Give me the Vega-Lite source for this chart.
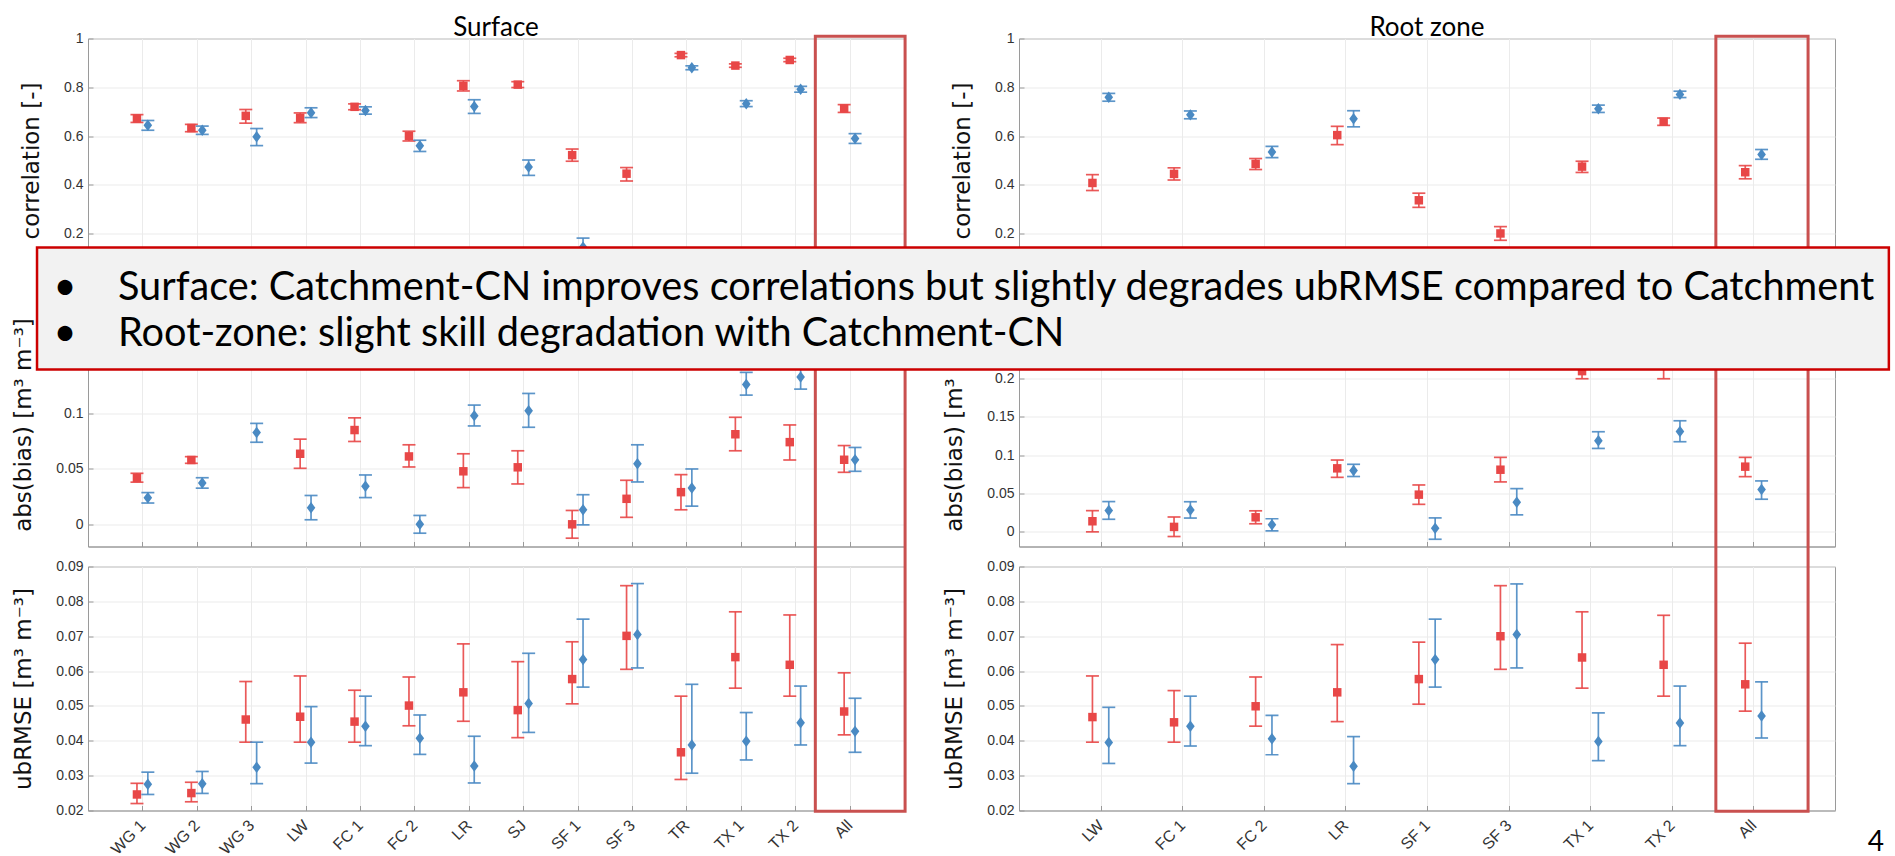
{
"$schema":"https://vega.github.io/schema/vega-lite/v6.json",
"background":"white",
"padding":{"left":12,"top":13.5,"right":0,"bottom":0},
"bounds":"flush",
"columns":2,
"spacing":{"row":20,"column":115},
"config":{
 "view":{"stroke":"#9a9a9a","strokeWidth":1},
 "axis":{"domainColor":"#9a9a9a","tickColor":"#9a9a9a","gridColor":"#ebebeb","gridWidth":1,"labelFont":"Liberation Sans","labelFontSize":14,"labelColor":"#333333","titleFont":"DejaVu Sans","titleFontSize":23,"titleFontWeight":"normal","titleColor":"#111111","tickSize":-5,"labelPadding":10,"titlePadding":20,"grid":true,"labelOverlap":false,"labelBound":false},
 "title":{"font":"Lato","fontSize":26,"fontWeight":"normal","color":"#000000"}
},
"datasets":{
"surfData":[
{"site":"WG 1","pos":1,"model":"Catchment-CN","corr":0.672,"corr_lo":0.656,"corr_hi":0.688,"bias":0.042,"bias_lo":0.038,"bias_hi":0.046,"ub":0.0246,"ub_lo":0.022,"ub_hi":0.0278},
{"site":"WG 2","pos":2,"model":"Catchment-CN","corr":0.633,"corr_lo":0.618,"corr_hi":0.648,"bias":0.058,"bias_lo":0.055,"bias_hi":0.061,"ub":0.025,"ub_lo":0.0225,"ub_hi":0.0281},
{"site":"WG 3","pos":3,"model":"Catchment-CN","corr":0.683,"corr_lo":0.653,"corr_hi":0.709,"bias":0.16,"bias_lo":0.148,"bias_hi":0.172,"ub":0.0461,"ub_lo":0.0396,"ub_hi":0.057},
{"site":"LW","pos":4,"model":"Catchment-CN","corr":0.675,"corr_lo":0.655,"corr_hi":0.695,"bias":0.0636,"bias_lo":0.0505,"bias_hi":0.0768,"ub":0.0469,"ub_lo":0.0396,"ub_hi":0.0586},
{"site":"FC 1","pos":5,"model":"Catchment-CN","corr":0.72,"corr_lo":0.708,"corr_hi":0.732,"bias":0.085,"bias_lo":0.0747,"bias_hi":0.096,"ub":0.0455,"ub_lo":0.0396,"ub_hi":0.0545},
{"site":"FC 2","pos":6,"model":"Catchment-CN","corr":0.6,"corr_lo":0.58,"corr_hi":0.62,"bias":0.0612,"bias_lo":0.0517,"bias_hi":0.0717,"ub":0.0501,"ub_lo":0.0443,"ub_hi":0.0583},
{"site":"LR","pos":7,"model":"Catchment-CN","corr":0.806,"corr_lo":0.785,"corr_hi":0.827,"bias":0.0478,"bias_lo":0.0331,"bias_hi":0.0636,"ub":0.0539,"ub_lo":0.0456,"ub_hi":0.0678},
{"site":"SJ","pos":8,"model":"Catchment-CN","corr":0.811,"corr_lo":0.799,"corr_hi":0.823,"bias":0.0514,"bias_lo":0.0364,"bias_hi":0.0663,"ub":0.0488,"ub_lo":0.0409,"ub_hi":0.0627},
{"site":"SF 1","pos":9,"model":"Catchment-CN","corr":0.522,"corr_lo":0.497,"corr_hi":0.547,"bias":0.0,"bias_lo":-0.0125,"bias_hi":0.0125,"ub":0.0577,"ub_lo":0.0506,"ub_hi":0.0684},
{"site":"SF 3","pos":10,"model":"Catchment-CN","corr":0.446,"corr_lo":0.416,"corr_hi":0.471,"bias":0.023,"bias_lo":0.0063,"bias_hi":0.0397,"ub":0.0701,"ub_lo":0.0605,"ub_hi":0.0845},
{"site":"TR","pos":11,"model":"Catchment-CN","corr":0.932,"corr_lo":0.925,"corr_hi":0.939,"bias":0.029,"bias_lo":0.0131,"bias_hi":0.0448,"ub":0.0367,"ub_lo":0.0289,"ub_hi":0.0528},
{"site":"TX 1","pos":12,"model":"Catchment-CN","corr":0.889,"corr_lo":0.882,"corr_hi":0.896,"bias":0.0812,"bias_lo":0.0663,"bias_hi":0.0965,"ub":0.064,"ub_lo":0.0551,"ub_hi":0.077},
{"site":"TX 2","pos":13,"model":"Catchment-CN","corr":0.912,"corr_lo":0.905,"corr_hi":0.919,"bias":0.0741,"bias_lo":0.058,"bias_hi":0.0896,"ub":0.0618,"ub_lo":0.0528,"ub_hi":0.0761},
{"site":"All","pos":14,"model":"Catchment-CN","corr":0.713,"corr_lo":0.697,"corr_hi":0.729,"bias":0.0582,"bias_lo":0.0469,"bias_hi":0.071,"ub":0.0484,"ub_lo":0.0417,"ub_hi":0.0595},
{"site":"WG 1","pos":1,"model":"Catchment","corr":0.644,"corr_lo":0.624,"corr_hi":0.664,"bias":0.0239,"bias_lo":0.0192,"bias_hi":0.0286,"ub":0.0275,"ub_lo":0.0246,"ub_hi":0.031},
{"site":"WG 2","pos":2,"model":"Catchment","corr":0.624,"corr_lo":0.607,"corr_hi":0.641,"bias":0.0373,"bias_lo":0.0326,"bias_hi":0.042,"ub":0.0277,"ub_lo":0.0249,"ub_hi":0.0312},
{"site":"WG 3","pos":3,"model":"Catchment","corr":0.597,"corr_lo":0.561,"corr_hi":0.631,"bias":0.0827,"bias_lo":0.074,"bias_hi":0.091,"ub":0.0324,"ub_lo":0.0277,"ub_hi":0.0396},
{"site":"LW","pos":4,"model":"Catchment","corr":0.696,"corr_lo":0.676,"corr_hi":0.716,"bias":0.015,"bias_lo":0.0041,"bias_hi":0.026,"ub":0.0396,"ub_lo":0.0336,"ub_hi":0.0498},
{"site":"FC 1","pos":5,"model":"Catchment","corr":0.705,"corr_lo":0.69,"corr_hi":0.72,"bias":0.0343,"bias_lo":0.0241,"bias_hi":0.0445,"ub":0.0442,"ub_lo":0.0386,"ub_hi":0.0528},
{"site":"FC 2","pos":6,"model":"Catchment","corr":0.56,"corr_lo":0.537,"corr_hi":0.583,"bias":0.0,"bias_lo":-0.008,"bias_hi":0.008,"ub":0.0407,"ub_lo":0.0361,"ub_hi":0.0474},
{"site":"LR","pos":7,"model":"Catchment","corr":0.721,"corr_lo":0.693,"corr_hi":0.749,"bias":0.098,"bias_lo":0.0887,"bias_hi":0.1075,"ub":0.0328,"ub_lo":0.0279,"ub_hi":0.0413},
{"site":"SJ","pos":8,"model":"Catchment","corr":0.473,"corr_lo":0.439,"corr_hi":0.502,"bias":0.1024,"bias_lo":0.0875,"bias_hi":0.118,"ub":0.0507,"ub_lo":0.0424,"ub_hi":0.0651},
{"site":"SF 1","pos":9,"model":"Catchment","corr":0.145,"corr_lo":0.11,"corr_hi":0.182,"bias":0.0131,"bias_lo":-0.0005,"bias_hi":0.0267,"ub":0.0633,"ub_lo":0.0554,"ub_hi":0.0749},
{"site":"SF 3","pos":10,"model":"Catchment","corr":0.08,"corr_lo":0.05,"corr_hi":0.11,"bias":0.0547,"bias_lo":0.0382,"bias_hi":0.0717,"ub":0.0705,"ub_lo":0.0609,"ub_hi":0.0851},
{"site":"TR","pos":11,"model":"Catchment","corr":0.88,"corr_lo":0.872,"corr_hi":0.888,"bias":0.0328,"bias_lo":0.0164,"bias_hi":0.0499,"ub":0.0388,"ub_lo":0.0307,"ub_hi":0.0562},
{"site":"TX 1","pos":12,"model":"Catchment","corr":0.733,"corr_lo":0.721,"corr_hi":0.745,"bias":0.126,"bias_lo":0.1165,"bias_hi":0.137,"ub":0.0399,"ub_lo":0.0345,"ub_hi":0.0481},
{"site":"TX 2","pos":13,"model":"Catchment","corr":0.792,"corr_lo":0.78,"corr_hi":0.804,"bias":0.1329,"bias_lo":0.1219,"bias_hi":0.1439,"ub":0.0452,"ub_lo":0.0388,"ub_hi":0.0557},
{"site":"All","pos":14,"model":"Catchment","corr":0.59,"corr_lo":0.57,"corr_hi":0.61,"bias":0.0582,"bias_lo":0.0478,"bias_hi":0.0693,"ub":0.0427,"ub_lo":0.0367,"ub_hi":0.0522}
],
"rootData":[
{"site":"LW","pos":1,"model":"Catchment-CN","corr":0.408,"corr_lo":0.377,"corr_hi":0.442,"bias":0.0131,"bias_lo":-0.0008,"bias_hi":0.027,"ub":0.0468,"ub_lo":0.0396,"ub_hi":0.0586},
{"site":"FC 1","pos":2,"model":"Catchment-CN","corr":0.445,"corr_lo":0.42,"corr_hi":0.47,"bias":0.0057,"bias_lo":-0.0069,"bias_hi":0.0187,"ub":0.0453,"ub_lo":0.0396,"ub_hi":0.0544},
{"site":"FC 2","pos":3,"model":"Catchment-CN","corr":0.486,"corr_lo":0.463,"corr_hi":0.508,"bias":0.0183,"bias_lo":0.0098,"bias_hi":0.0268,"ub":0.0499,"ub_lo":0.0442,"ub_hi":0.0583},
{"site":"LR","pos":4,"model":"Catchment-CN","corr":0.604,"corr_lo":0.565,"corr_hi":0.64,"bias":0.0825,"bias_lo":0.0707,"bias_hi":0.0934,"ub":0.0539,"ub_lo":0.0455,"ub_hi":0.0676},
{"site":"SF 1","pos":5,"model":"Catchment-CN","corr":0.337,"corr_lo":0.308,"corr_hi":0.366,"bias":0.048,"bias_lo":0.0353,"bias_hi":0.0607,"ub":0.0577,"ub_lo":0.0505,"ub_hi":0.0683},
{"site":"SF 3","pos":6,"model":"Catchment-CN","corr":0.201,"corr_lo":0.173,"corr_hi":0.229,"bias":0.0807,"bias_lo":0.0647,"bias_hi":0.0969,"ub":0.07,"ub_lo":0.0605,"ub_hi":0.0845},
{"site":"TX 1","pos":7,"model":"Catchment-CN","corr":0.475,"corr_lo":0.451,"corr_hi":0.497,"bias":0.21,"bias_lo":0.2,"bias_hi":0.22,"ub":0.0639,"ub_lo":0.0551,"ub_hi":0.077},
{"site":"TX 2","pos":8,"model":"Catchment-CN","corr":0.659,"corr_lo":0.644,"corr_hi":0.674,"bias":0.218,"bias_lo":0.2,"bias_hi":0.236,"ub":0.0618,"ub_lo":0.0528,"ub_hi":0.076},
{"site":"All","pos":9,"model":"Catchment-CN","corr":0.452,"corr_lo":0.425,"corr_hi":0.479,"bias":0.0847,"bias_lo":0.0716,"bias_hi":0.0969,"ub":0.0562,"ub_lo":0.0485,"ub_hi":0.068},
{"site":"LW","pos":1,"model":"Catchment","corr":0.759,"corr_lo":0.743,"corr_hi":0.775,"bias":0.0271,"bias_lo":0.0157,"bias_hi":0.0389,"ub":0.0395,"ub_lo":0.0335,"ub_hi":0.0496},
{"site":"FC 1","pos":2,"model":"Catchment","corr":0.687,"corr_lo":0.671,"corr_hi":0.703,"bias":0.028,"bias_lo":0.0173,"bias_hi":0.0387,"ub":0.0442,"ub_lo":0.0385,"ub_hi":0.0528},
{"site":"FC 2","pos":3,"model":"Catchment","corr":0.535,"corr_lo":0.512,"corr_hi":0.558,"bias":0.0084,"bias_lo":0.0004,"bias_hi":0.0164,"ub":0.0406,"ub_lo":0.036,"ub_hi":0.0473},
{"site":"LR","pos":4,"model":"Catchment","corr":0.671,"corr_lo":0.638,"corr_hi":0.704,"bias":0.0798,"bias_lo":0.0718,"bias_hi":0.0878,"ub":0.0327,"ub_lo":0.0277,"ub_hi":0.0412},
{"site":"SF 1","pos":5,"model":"Catchment","corr":0.1,"corr_lo":0.07,"corr_hi":0.13,"bias":0.0039,"bias_lo":-0.0105,"bias_hi":0.0175,"ub":0.0633,"ub_lo":0.0554,"ub_hi":0.0749},
{"site":"SF 3","pos":6,"model":"Catchment","corr":0.05,"corr_lo":0.02,"corr_hi":0.08,"bias":0.038,"bias_lo":0.0215,"bias_hi":0.0559,"ub":0.0705,"ub_lo":0.0609,"ub_hi":0.085},
{"site":"TX 1","pos":7,"model":"Catchment","corr":0.712,"corr_lo":0.697,"corr_hi":0.727,"bias":0.1187,"bias_lo":0.1086,"bias_hi":0.1305,"ub":0.0398,"ub_lo":0.0343,"ub_hi":0.048},
{"site":"TX 2","pos":8,"model":"Catchment","corr":0.771,"corr_lo":0.758,"corr_hi":0.784,"bias":0.1309,"bias_lo":0.1174,"bias_hi":0.1449,"ub":0.0451,"ub_lo":0.0386,"ub_hi":0.0557},
{"site":"All","pos":9,"model":"Catchment","corr":0.525,"corr_lo":0.505,"corr_hi":0.545,"bias":0.0546,"bias_lo":0.042,"bias_hi":0.066,"ub":0.0471,"ub_lo":0.0408,"ub_hi":0.0569}
]
},
"concat":[
{
 "width":816,"height":244,
 "title":{"text":"Surface","offset":-9},
 "data":{"name":"surfData"},
 "resolve":{"scale":{"x":"independent"}},
 "layer":[
  {"transform":[{"filter":"datum.model === 'Catchment-CN'"}],
   "encoding":{"x":{"field":"pos","type":"quantitative","scale":{"domain":[0.1,15.1],"nice":false,"zero":false},"axis":{"values":[1.1,2.1,3.1,4.1,5.1,6.1,7.1,8.1,9.1,10.1,11.1,12.1,13.1,14.1],"labels":false,"title":null}},"color":{"value":"#e84747"}},
   "layer":[
    {"mark":{"type":"rule","strokeWidth":1.7,"opacity":0.9},"encoding":{"y":{"field":"corr_lo","type":"quantitative","scale":{"domain":[0,1],"nice":false,"zero":false},"axis":{"values":[0,0.2,0.4,0.6,0.8,1],"format":"~g","title":"correlation [-]","labelOverlap":false}},"y2":{"field":"corr_hi"}}},
    {"mark":{"type":"tick","orient":"horizontal","size":13,"thickness":1.7,"opacity":0.9},"encoding":{"y":{"field":"corr_lo","type":"quantitative"}}},
    {"mark":{"type":"tick","orient":"horizontal","size":13,"thickness":1.7,"opacity":0.9},"encoding":{"y":{"field":"corr_hi","type":"quantitative"}}},
    {"mark":{"type":"point","filled":true,"opacity":1,"shape":"square","size":72},"encoding":{"y":{"field":"corr","type":"quantitative"}}}
   ]},
  {"transform":[{"filter":"datum.model === 'Catchment'"}],
   "encoding":{"x":{"field":"pos","type":"quantitative","scale":{"domain":[-0.1,14.9],"nice":false,"zero":false},"axis":null},"color":{"value":"#4a8ac3"}},
   "layer":[
    {"mark":{"type":"rule","strokeWidth":1.7,"opacity":0.9},"encoding":{"y":{"field":"corr_lo","type":"quantitative"},"y2":{"field":"corr_hi"}}},
    {"mark":{"type":"tick","orient":"horizontal","size":13,"thickness":1.7,"opacity":0.9},"encoding":{"y":{"field":"corr_lo","type":"quantitative"}}},
    {"mark":{"type":"tick","orient":"horizontal","size":13,"thickness":1.7,"opacity":0.9},"encoding":{"y":{"field":"corr_hi","type":"quantitative"}}},
    {"mark":{"type":"point","filled":true,"opacity":1,"shape":"M0,-1L0.75,0L0,1L-0.75,0Z","size":132},"encoding":{"y":{"field":"corr","type":"quantitative"}}}
   ]}
 ]
},
{
 "width":816,"height":244,
 "title":{"text":"Root zone","offset":-9},
 "data":{"name":"rootData"},
 "resolve":{"scale":{"x":"independent"}},
 "layer":[
  {"transform":[{"filter":"datum.model === 'Catchment-CN'"}],
   "encoding":{"x":{"field":"pos","type":"quantitative","scale":{"domain":[0.1,10.1],"nice":false,"zero":false},"axis":{"values":[1.1,2.1,3.1,4.1,5.1,6.1,7.1,8.1,9.1],"labels":false,"title":null}},"color":{"value":"#e84747"}},
   "layer":[
    {"mark":{"type":"rule","strokeWidth":1.7,"opacity":0.9},"encoding":{"y":{"field":"corr_lo","type":"quantitative","scale":{"domain":[0,1],"nice":false,"zero":false},"axis":{"values":[0,0.2,0.4,0.6,0.8,1],"format":"~g","title":"correlation [-]","labelOverlap":false}},"y2":{"field":"corr_hi"}}},
    {"mark":{"type":"tick","orient":"horizontal","size":13,"thickness":1.7,"opacity":0.9},"encoding":{"y":{"field":"corr_lo","type":"quantitative"}}},
    {"mark":{"type":"tick","orient":"horizontal","size":13,"thickness":1.7,"opacity":0.9},"encoding":{"y":{"field":"corr_hi","type":"quantitative"}}},
    {"mark":{"type":"point","filled":true,"opacity":1,"shape":"square","size":72},"encoding":{"y":{"field":"corr","type":"quantitative"}}}
   ]},
  {"transform":[{"filter":"datum.model === 'Catchment'"}],
   "encoding":{"x":{"field":"pos","type":"quantitative","scale":{"domain":[-0.1,9.9],"nice":false,"zero":false},"axis":null},"color":{"value":"#4a8ac3"}},
   "layer":[
    {"mark":{"type":"rule","strokeWidth":1.7,"opacity":0.9},"encoding":{"y":{"field":"corr_lo","type":"quantitative"},"y2":{"field":"corr_hi"}}},
    {"mark":{"type":"tick","orient":"horizontal","size":13,"thickness":1.7,"opacity":0.9},"encoding":{"y":{"field":"corr_lo","type":"quantitative"}}},
    {"mark":{"type":"tick","orient":"horizontal","size":13,"thickness":1.7,"opacity":0.9},"encoding":{"y":{"field":"corr_hi","type":"quantitative"}}},
    {"mark":{"type":"point","filled":true,"opacity":1,"shape":"M0,-1L0.75,0L0,1L-0.75,0Z","size":132},"encoding":{"y":{"field":"corr","type":"quantitative"}}}
   ]}
 ]
},
{
 "width":816,"height":244,
 "data":{"name":"surfData"},
 "resolve":{"scale":{"x":"independent"}},
 "layer":[
  {"transform":[{"filter":"datum.model === 'Catchment-CN'"}],
   "encoding":{"x":{"field":"pos","type":"quantitative","scale":{"domain":[0.1,15.1],"nice":false,"zero":false},"axis":{"values":[1.1,2.1,3.1,4.1,5.1,6.1,7.1,8.1,9.1,10.1,11.1,12.1,13.1,14.1],"labels":false,"title":null}},"color":{"value":"#e84747"}},
   "layer":[
    {"mark":{"type":"rule","strokeWidth":1.7,"opacity":0.9},"encoding":{"y":{"field":"bias_lo","type":"quantitative","scale":{"domain":[-0.02,0.2],"nice":false,"zero":false},"axis":{"values":[0,0.05,0.1,0.15,0.2],"format":"~g","title":"abs(bias) [m³ m⁻³]","labelOverlap":false}},"y2":{"field":"bias_hi"}}},
    {"mark":{"type":"tick","orient":"horizontal","size":13,"thickness":1.7,"opacity":0.9},"encoding":{"y":{"field":"bias_lo","type":"quantitative"}}},
    {"mark":{"type":"tick","orient":"horizontal","size":13,"thickness":1.7,"opacity":0.9},"encoding":{"y":{"field":"bias_hi","type":"quantitative"}}},
    {"mark":{"type":"point","filled":true,"opacity":1,"shape":"square","size":72},"encoding":{"y":{"field":"bias","type":"quantitative"}}}
   ]},
  {"transform":[{"filter":"datum.model === 'Catchment'"}],
   "encoding":{"x":{"field":"pos","type":"quantitative","scale":{"domain":[-0.1,14.9],"nice":false,"zero":false},"axis":null},"color":{"value":"#4a8ac3"}},
   "layer":[
    {"mark":{"type":"rule","strokeWidth":1.7,"opacity":0.9},"encoding":{"y":{"field":"bias_lo","type":"quantitative"},"y2":{"field":"bias_hi"}}},
    {"mark":{"type":"tick","orient":"horizontal","size":13,"thickness":1.7,"opacity":0.9},"encoding":{"y":{"field":"bias_lo","type":"quantitative"}}},
    {"mark":{"type":"tick","orient":"horizontal","size":13,"thickness":1.7,"opacity":0.9},"encoding":{"y":{"field":"bias_hi","type":"quantitative"}}},
    {"mark":{"type":"point","filled":true,"opacity":1,"shape":"M0,-1L0.75,0L0,1L-0.75,0Z","size":132},"encoding":{"y":{"field":"bias","type":"quantitative"}}}
   ]}
 ]
},
{
 "width":816,"height":244,
 "data":{"name":"rootData"},
 "resolve":{"scale":{"x":"independent"}},
 "layer":[
  {"transform":[{"filter":"datum.model === 'Catchment-CN'"}],
   "encoding":{"x":{"field":"pos","type":"quantitative","scale":{"domain":[0.1,10.1],"nice":false,"zero":false},"axis":{"values":[1.1,2.1,3.1,4.1,5.1,6.1,7.1,8.1,9.1],"labels":false,"title":null}},"color":{"value":"#e84747"}},
   "layer":[
    {"mark":{"type":"rule","strokeWidth":1.7,"opacity":0.9},"encoding":{"y":{"field":"bias_lo","type":"quantitative","scale":{"domain":[-0.02,0.3],"nice":false,"zero":false},"axis":{"values":[0,0.05,0.1,0.15,0.2,0.25,0.3],"format":"~g","title":"abs(bias) [m³ m⁻³]","labelOverlap":false}},"y2":{"field":"bias_hi"}}},
    {"mark":{"type":"tick","orient":"horizontal","size":13,"thickness":1.7,"opacity":0.9},"encoding":{"y":{"field":"bias_lo","type":"quantitative"}}},
    {"mark":{"type":"tick","orient":"horizontal","size":13,"thickness":1.7,"opacity":0.9},"encoding":{"y":{"field":"bias_hi","type":"quantitative"}}},
    {"mark":{"type":"point","filled":true,"opacity":1,"shape":"square","size":72},"encoding":{"y":{"field":"bias","type":"quantitative"}}}
   ]},
  {"transform":[{"filter":"datum.model === 'Catchment'"}],
   "encoding":{"x":{"field":"pos","type":"quantitative","scale":{"domain":[-0.1,9.9],"nice":false,"zero":false},"axis":null},"color":{"value":"#4a8ac3"}},
   "layer":[
    {"mark":{"type":"rule","strokeWidth":1.7,"opacity":0.9},"encoding":{"y":{"field":"bias_lo","type":"quantitative"},"y2":{"field":"bias_hi"}}},
    {"mark":{"type":"tick","orient":"horizontal","size":13,"thickness":1.7,"opacity":0.9},"encoding":{"y":{"field":"bias_lo","type":"quantitative"}}},
    {"mark":{"type":"tick","orient":"horizontal","size":13,"thickness":1.7,"opacity":0.9},"encoding":{"y":{"field":"bias_hi","type":"quantitative"}}},
    {"mark":{"type":"point","filled":true,"opacity":1,"shape":"M0,-1L0.75,0L0,1L-0.75,0Z","size":132},"encoding":{"y":{"field":"bias","type":"quantitative"}}}
   ]}
 ]
},
{
 "width":816,"height":244,
 "resolve":{"scale":{"x":"independent"}},
 "layer":[
  {"data":{"name":"surfData"},"transform":[{"filter":"datum.model === 'Catchment-CN'"}],
   "encoding":{"x":{"field":"pos","type":"quantitative","scale":{"domain":[0.1,15.1],"nice":false,"zero":false},"axis":{"values":[1.1,2.1,3.1,4.1,5.1,6.1,7.1,8.1,9.1,10.1,11.1,12.1,13.1,14.1],"title":null,"labelExpr":"['','WG 1','WG 2','WG 3','LW','FC 1','FC 2','LR','SJ','SF 1','SF 3','TR','TX 1','TX 2','All'][round(datum.value)]","labelAngle":-45,"labelAlign":"right","labelBaseline":"middle","labelPadding":17,"labelFontSize":16,"labelOverlap":false}},"color":{"value":"#e84747"}},
   "layer":[
    {"mark":{"type":"rule","strokeWidth":1.7,"opacity":0.9},"encoding":{"y":{"field":"ub_lo","type":"quantitative","scale":{"domain":[0.02,0.09],"nice":false,"zero":false},"axis":{"tickCount":8,"format":".2f","title":"ubRMSE [m³ m⁻³]","labelOverlap":false}},"y2":{"field":"ub_hi"}}},
    {"mark":{"type":"tick","orient":"horizontal","size":13,"thickness":1.7,"opacity":0.9},"encoding":{"y":{"field":"ub_lo","type":"quantitative"}}},
    {"mark":{"type":"tick","orient":"horizontal","size":13,"thickness":1.7,"opacity":0.9},"encoding":{"y":{"field":"ub_hi","type":"quantitative"}}},
    {"mark":{"type":"point","filled":true,"opacity":1,"shape":"square","size":72},"encoding":{"y":{"field":"ub","type":"quantitative"}}}
   ]},
  {"data":{"name":"surfData"},"transform":[{"filter":"datum.model === 'Catchment'"}],
   "encoding":{"x":{"field":"pos","type":"quantitative","scale":{"domain":[-0.1,14.9],"nice":false,"zero":false},"axis":null},"color":{"value":"#4a8ac3"}},
   "layer":[
    {"mark":{"type":"rule","strokeWidth":1.7,"opacity":0.9},"encoding":{"y":{"field":"ub_lo","type":"quantitative"},"y2":{"field":"ub_hi"}}},
    {"mark":{"type":"tick","orient":"horizontal","size":13,"thickness":1.7,"opacity":0.9},"encoding":{"y":{"field":"ub_lo","type":"quantitative"}}},
    {"mark":{"type":"tick","orient":"horizontal","size":13,"thickness":1.7,"opacity":0.9},"encoding":{"y":{"field":"ub_hi","type":"quantitative"}}},
    {"mark":{"type":"point","filled":true,"opacity":1,"shape":"M0,-1L0.75,0L0,1L-0.75,0Z","size":132},"encoding":{"y":{"field":"ub","type":"quantitative"}}}
   ]},
  {
   "data":{"values":[{"bx1":13.37,"bx2":15.02,"by1":0.0198,"by2":0.2421}]},
   "mark":{"type":"rect","filled":false,"stroke":"#c9504f","strokeWidth":3},
   "encoding":{"x":{"field":"bx1","type":"quantitative","scale":{"domain":[0,15],"nice":false,"zero":false},"axis":null},"x2":{"field":"bx2"},"y":{"field":"by1","type":"quantitative"},"y2":{"field":"by2"}}
  }
 ]
},
{
 "width":816,"height":244,
 "resolve":{"scale":{"x":"independent"}},
 "layer":[
  {"data":{"name":"rootData"},"transform":[{"filter":"datum.model === 'Catchment-CN'"}],
   "encoding":{"x":{"field":"pos","type":"quantitative","scale":{"domain":[0.1,10.1],"nice":false,"zero":false},"axis":{"values":[1.1,2.1,3.1,4.1,5.1,6.1,7.1,8.1,9.1],"title":null,"labelExpr":"['','LW','FC 1','FC 2','LR','SF 1','SF 3','TX 1','TX 2','All'][round(datum.value)]","labelAngle":-45,"labelAlign":"right","labelBaseline":"middle","labelPadding":17,"labelFontSize":16,"labelOverlap":false}},"color":{"value":"#e84747"}},
   "layer":[
    {"mark":{"type":"rule","strokeWidth":1.7,"opacity":0.9},"encoding":{"y":{"field":"ub_lo","type":"quantitative","scale":{"domain":[0.02,0.09],"nice":false,"zero":false},"axis":{"tickCount":8,"format":".2f","title":"ubRMSE [m³ m⁻³]","labelOverlap":false}},"y2":{"field":"ub_hi"}}},
    {"mark":{"type":"tick","orient":"horizontal","size":13,"thickness":1.7,"opacity":0.9},"encoding":{"y":{"field":"ub_lo","type":"quantitative"}}},
    {"mark":{"type":"tick","orient":"horizontal","size":13,"thickness":1.7,"opacity":0.9},"encoding":{"y":{"field":"ub_hi","type":"quantitative"}}},
    {"mark":{"type":"point","filled":true,"opacity":1,"shape":"square","size":72},"encoding":{"y":{"field":"ub","type":"quantitative"}}}
   ]},
  {"data":{"name":"rootData"},"transform":[{"filter":"datum.model === 'Catchment'"}],
   "encoding":{"x":{"field":"pos","type":"quantitative","scale":{"domain":[-0.1,9.9],"nice":false,"zero":false},"axis":null},"color":{"value":"#4a8ac3"}},
   "layer":[
    {"mark":{"type":"rule","strokeWidth":1.7,"opacity":0.9},"encoding":{"y":{"field":"ub_lo","type":"quantitative"},"y2":{"field":"ub_hi"}}},
    {"mark":{"type":"tick","orient":"horizontal","size":13,"thickness":1.7,"opacity":0.9},"encoding":{"y":{"field":"ub_lo","type":"quantitative"}}},
    {"mark":{"type":"tick","orient":"horizontal","size":13,"thickness":1.7,"opacity":0.9},"encoding":{"y":{"field":"ub_hi","type":"quantitative"}}},
    {"mark":{"type":"point","filled":true,"opacity":1,"shape":"M0,-1L0.75,0L0,1L-0.75,0Z","size":132},"encoding":{"y":{"field":"ub","type":"quantitative"}}}
   ]},
  {"layer":[
   {
    "data":{"values":[{"bx1":8.54,"bx2":9.67,"by1":0.0198,"by2":0.2421}]},
    "mark":{"type":"rect","filled":false,"stroke":"#c9504f","strokeWidth":3},
    "encoding":{"x":{"field":"bx1","type":"quantitative","scale":{"domain":[0,10],"nice":false,"zero":false},"axis":null},"x2":{"field":"bx2"},"y":{"field":"by1","type":"quantitative"},"y2":{"field":"by2"}}
   },
   {
    "data":{"values":[{"bx1":-12.034,"bx2":10.66,"by1":0.14652,"by2":0.18152}]},
    "mark":{"type":"rect","fill":"#f2f2f2","stroke":"#cc0000","strokeWidth":2.5},
    "encoding":{"x":{"field":"bx1","type":"quantitative"},"x2":{"field":"bx2"},"y":{"field":"by1","type":"quantitative"},"y2":{"field":"by2"}}
   },
   {
    "data":{"values":[{"tx":-11.691,"ty":0.1698,"t":"•"},{"tx":-11.691,"ty":0.15684,"t":"•"}]},
    "mark":{"type":"text","font":"Lato","fontSize":39.7,"align":"center","baseline":"middle","fill":"#000000"},
    "encoding":{"x":{"field":"tx","type":"quantitative"},"y":{"field":"ty","type":"quantitative"},"text":{"field":"t"}}
   },
   {
    "data":{"values":[{"tx":-11.042,"ty":0.1698,"t":"Surface: Catchment-CN improves correlations but slightly degrades ubRMSE compared to Catchment"},{"tx":-11.042,"ty":0.15684,"t":"Root-zone: slight skill degradation with Catchment-CN"}]},
    "mark":{"type":"text","font":"Lato","fontSize":39.7,"align":"left","baseline":"middle","fill":"#000000"},
    "encoding":{"x":{"field":"tx","type":"quantitative"},"y":{"field":"ty","type":"quantitative"},"text":{"field":"t"}}
   },
   {
    "data":{"values":[{"tx":10.5,"ty":0.0107,"t":"4"}]},
    "mark":{"type":"text","font":"Lato","fontSize":28,"align":"center","baseline":"middle","fill":"#000000"},
    "encoding":{"x":{"field":"tx","type":"quantitative"},"y":{"field":"ty","type":"quantitative"},"text":{"field":"t"}}
   }
  ]}
 ]
}
]
}
